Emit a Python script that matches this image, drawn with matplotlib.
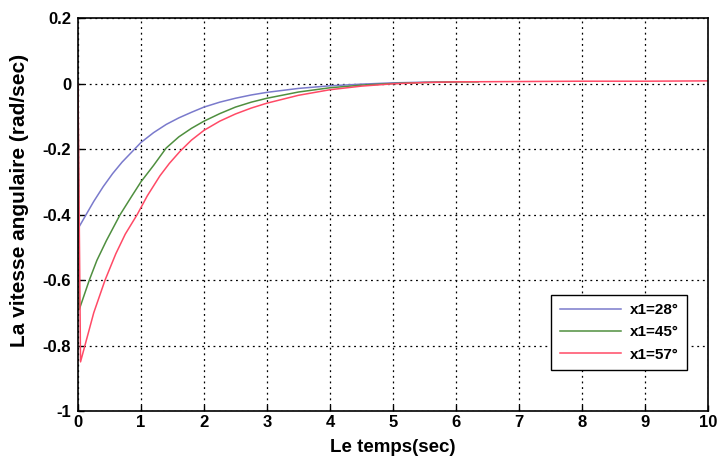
import numpy as np
import matplotlib
matplotlib.use('Agg')
import matplotlib.pyplot as plt

plt.rcParams['font.family'] = ['Liberation Sans', 'DejaVu Sans']

# time samples (sec) and angular speed (rad/sec)
t28 = [0, 0.01, 0.13, 0.25, 0.4, 0.55, 0.7, 0.85, 1.0, 1.2, 1.4, 1.6, 1.8, 2.0, 2.25, 2.5, 2.75,
       3.0, 3.5, 4.0, 4.5, 5.0, 5.5, 6.0]
w28 = [0, -0.44, -0.40, -0.36, -0.315, -0.275, -0.24, -0.21, -0.18, -0.15, -0.125, -0.105, -0.088,
       -0.072, -0.057, -0.045, -0.035, -0.027, -0.015, -0.007, -0.002, 0.002, 0.004, 0.005]

t45 = [0, 0.02, 0.18, 0.3, 0.45, 0.67, 0.85, 1.0, 1.2, 1.4, 1.6, 1.8, 2.0, 2.25, 2.5, 2.75, 3.0,
       3.5, 4.0, 4.5, 5.0, 5.5, 6.0, 6.35]
w45 = [0, -0.69, -0.60, -0.54, -0.48, -0.40, -0.345, -0.30, -0.25, -0.197, -0.163, -0.137, -0.115,
       -0.092, -0.072, -0.057, -0.045, -0.026, -0.013, -0.005, 0.0, 0.003, 0.005, 0.005]

t57 = [0, 0.04, 0.11, 0.25, 0.43, 0.6, 0.75, 0.94, 1.1, 1.3, 1.45, 1.62, 1.8, 2.0, 2.25, 2.5, 2.75,
       3.0, 3.5, 4.0, 4.5, 5.0, 5.5, 6.0, 7.0, 8.0, 9.0, 10.0]
w57 = [0, -0.85, -0.80, -0.70, -0.60, -0.52, -0.46, -0.40, -0.343, -0.282, -0.244, -0.207, -0.173,
       -0.143, -0.115, -0.093, -0.075, -0.06, -0.036, -0.019, -0.008, -0.001, 0.003, 0.005, 0.006,
       0.007, 0.007, 0.008]

labels = ['x1=28°', 'x1=45°', 'x1=57°']
colors = ['#7a7acc', '#4f8f3f', '#ff4a66']

fig = plt.figure(figsize=(7.17, 4.58), dpi=100)
ax = fig.add_axes([78/717, 1 - 411/458, 630/717, 393/458])

for (t, w), lab, c in zip([(t28, w28), (t45, w45), (t57, w57)], labels, colors):
    ax.plot(t, w, color=c, lw=1.1, label=lab)

ax.set_xlim(0, 10)
ax.set_ylim(-1, 0.2)
ax.set_xticks(np.arange(0, 11, 1))
ax.set_yticks([-1, -0.8, -0.6, -0.4, -0.2, 0, 0.2])
ax.set_yticklabels(['-1', '-0.8', '-0.6', '-0.4', '-0.2', '0', '0.2'])
ax.grid(True, color='black', linestyle=(0, (1.5, 3)), lw=0.9)
ax.tick_params(direction='in', length=4, labelsize=12, width=1)
ax.tick_params(axis='x', pad=3)
ax.tick_params(axis='y', pad=5)
for lbl in ax.get_xticklabels() + ax.get_yticklabels():
    lbl.set_fontweight('bold')
for s in ax.spines.values():
    s.set_linewidth(1.2)

ax.set_xlabel('Le temps(sec)', fontsize=13.5, fontweight='bold', va='top')
ax.xaxis.set_label_coords(0.5, -0.072)
ax.set_ylabel('La vitesse angulaire (rad/sec)', fontsize=15, fontweight='bold')
ax.yaxis.set_label_coords(-0.077, 0.535)

leg = ax.legend(loc='lower right', bbox_to_anchor=(0.967, 0.104), borderaxespad=0, fancybox=False,
                edgecolor='black', framealpha=1, prop={'weight': 'bold', 'size': 11},
                handlelength=4.0, handletextpad=0.6, borderpad=0.55, labelspacing=0.55)
leg.get_frame().set_linewidth(1)

fig.savefig('out.png', dpi=100)
